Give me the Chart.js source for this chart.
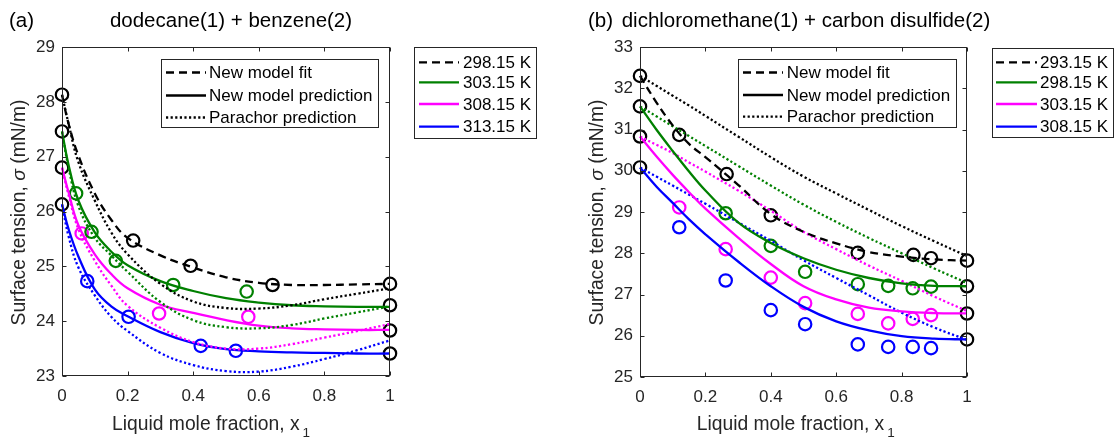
<!DOCTYPE html>
<html><head><meta charset="utf-8">
<script src="https://cdn.jsdelivr.net/npm/chart.js@4.4.0/dist/chart.umd.min.js"></script>
<style>
html,body{margin:0;padding:0;background:#fff;overflow:hidden;}
#wrap{position:relative;width:1114px;height:438px;background:#fff;}
.c{position:absolute;top:0;width:557px;height:438px;}
</style></head><body>
<div id="wrap">
<div class="c" style="left:0"><canvas id="ca" width="557" height="438"></canvas></div>
<div class="c" style="left:557px"><canvas id="cb" width="557" height="438"></canvas></div>
</div>
<script>
// ---------------- Panel (a): dodecane(1) + benzene(2) ----------------
const tempsA = ['298.15 K', '303.15 K', '308.15 K', '313.15 K'];
const xTicksA = [0, 0.2, 0.4, 0.6, 0.8, 1];
const xTickLabelsA = ['0', '0.2', '0.4', '0.6', '0.8', '1'];
const yTicksA = [23, 24, 25, 26, 27, 28, 29];
const gridA = [0, 0.02, 0.05, 0.1, 0.15, 0.2, 0.3, 0.4, 0.5, 0.6, 0.7, 0.8, 0.9, 1];
const modelA298 = [28.13, 27.6, 27.02, 26.33, 25.85, 25.52, 25.2, 24.98, 24.8, 24.7, 24.66, 24.66, 24.67, 24.68];
const modelA303 = [27.46, 26.85, 26.2, 25.62, 25.27, 25.02, 24.73, 24.55, 24.42, 24.34, 24.29, 24.27, 24.26, 24.26];
const modelA308 = [26.8, 26.35, 25.75, 25.22, 24.86, 24.6, 24.3, 24.15, 24.02, 23.92, 23.87, 23.85, 23.84, 23.84];
const modelA313 = [26.13, 25.68, 25.18, 24.58, 24.27, 24.09, 23.8, 23.6, 23.49, 23.45, 23.43, 23.42, 23.41, 23.41];
const parachorA298 = [28.13, 27.6, 26.9, 26.2, 25.62, 25.22, 24.68, 24.36, 24.24, 24.23, 24.29, 24.4, 24.5, 24.6];
const parachorA303 = [27.46, 26.8, 26.1, 25.52, 25.2, 24.9, 24.35, 24.02, 23.89, 23.87, 23.93, 24.05, 24.16, 24.27];
const parachorA308 = [26.8, 26.3, 25.68, 25.1, 24.65, 24.28, 23.88, 23.62, 23.5, 23.5, 23.58, 23.7, 23.82, 23.95];
const parachorA313 = [26.13, 25.55, 24.98, 24.47, 24.08, 23.82, 23.42, 23.2, 23.09, 23.08, 23.17, 23.31, 23.47, 23.65];
const expA298X = [0.217, 0.392, 0.642];
const expA298Y = [25.47, 25.01, 24.66];
const expA303X = [0.043, 0.090, 0.164, 0.339, 0.563];
const expA303Y = [26.33, 25.63, 25.10, 24.66, 24.54];
const expA308X = [0.060, 0.296, 0.568];
const expA308Y = [25.60, 24.14, 24.08];
const expA313X = [0.077, 0.203, 0.423, 0.530];
const expA313Y = [24.73, 24.08, 23.55, 23.46];
const pureAX = [0, 0, 0, 0, 1, 1, 1, 1];
const pureAY = [28.13, 27.46, 26.80, 26.13, 24.68, 24.29, 23.83, 23.41];

// ---------------- Panel (b): dichloromethane(1) + carbon disulfide(2) ----------------
const tempsB = ['293.15 K', '298.15 K', '303.15 K', '308.15 K'];
const xTicksB = [0, 0.2, 0.4, 0.6, 0.8, 1];
const xTickLabelsB = ['0', '0.2', '0.4', '0.6', '0.8', '1'];
const yTicksB = [25, 26, 27, 28, 29, 30, 31, 32, 33];
const gridB = [0, 0.05, 0.1, 0.15, 0.2, 0.3, 0.4, 0.5, 0.6, 0.7, 0.8, 0.9, 1];
const modelB293 = [32.3, 31.66, 31.1, 30.65, 30.33, 29.66, 28.95, 28.52, 28.24, 28.03, 27.92, 27.85, 27.82];
const modelB298 = [31.56, 31.0, 30.48, 29.98, 29.52, 28.75, 28.25, 27.88, 27.6, 27.4, 27.27, 27.21, 27.2];
const modelB303 = [30.83, 30.35, 29.9, 29.48, 29.08, 28.38, 27.74, 27.2, 26.88, 26.68, 26.59, 26.55, 26.54];
const modelB308 = [30.08, 29.62, 29.22, 28.82, 28.46, 27.8, 27.2, 26.7, 26.35, 26.13, 25.99, 25.93, 25.91];
const parachorB293 = [32.3, 32.06, 31.82, 31.58, 31.33, 30.83, 30.33, 29.86, 29.45, 29.05, 28.66, 28.29, 27.93];
const parachorB298 = [31.56, 31.32, 31.08, 30.84, 30.6, 30.12, 29.64, 29.18, 28.76, 28.37, 28.0, 27.63, 27.28];
const parachorB303 = [30.83, 30.63, 30.43, 30.2, 29.98, 29.52, 29.03, 28.52, 28.1, 27.7, 27.33, 26.95, 26.6];
const parachorB308 = [30.08, 29.86, 29.64, 29.42, 29.2, 28.75, 28.3, 27.83, 27.4, 26.98, 26.56, 26.2, 25.9];
const expB293X = [0.120, 0.265, 0.400, 0.666, 0.836, 0.890];
const expB293Y = [30.87, 29.92, 28.92, 28.01, 27.96, 27.88];
const expB298X = [0.262, 0.400, 0.505, 0.666, 0.759, 0.834, 0.890];
const expB298Y = [28.97, 28.18, 27.55, 27.25, 27.21, 27.15, 27.19];
const expB303X = [0.120, 0.262, 0.400, 0.505, 0.666, 0.759, 0.834, 0.890];
const expB303Y = [29.11, 28.10, 27.41, 26.79, 26.53, 26.30, 26.41, 26.50];
const expB308X = [0.120, 0.262, 0.400, 0.505, 0.666, 0.759, 0.834, 0.890];
const expB308Y = [28.63, 27.34, 26.62, 26.28, 25.79, 25.73, 25.73, 25.70];
const pureBX = [0, 0, 0, 0, 1, 1, 1, 1];
const pureBY = [32.30, 31.56, 30.83, 30.08, 27.82, 27.20, 26.54, 25.91];

const styleLegendLabels = ['New model fit', 'New model prediction', 'Parachor prediction'];

// ---------------- styling ----------------
const FONT = "'Liberation Sans', Arial, Helvetica, sans-serif";
const COLORS = ['#000000', '#008000', '#ff00ff', '#0000ff'];
const AXC = '#262626';
const DASH = [8, 5];
const DOT = [2.2, 2.4];
const LW = 2.3;

function pts(xs, ys) { return xs.map((x, i) => ({ x: x, y: ys[i] })); }

function buildDatasets(P) {
  const ds = [];
  for (let i = 0; i < 4; i++) {
    ds.push({ data: pts(P.grid, P.model[i]), showLine: true, borderColor: COLORS[i], borderWidth: LW,
      borderDash: i === 0 ? DASH : [], pointRadius: 0, tension: 0.4, fill: false, clip: false });
    ds.push({ data: pts(P.grid, P.parachor[i]), showLine: true, borderColor: COLORS[i], borderWidth: LW,
      borderDash: DOT, pointRadius: 0, tension: 0.4, fill: false, clip: false });
  }
  for (let i = 0; i < 4; i++) {
    ds.push({ data: pts(P.expX[i], P.expY[i]), showLine: false, pointRadius: 6.2, pointBorderWidth: 2.2,
      pointBorderColor: COLORS[i], pointBackgroundColor: 'rgba(0,0,0,0)', pointHoverRadius: 6.2, clip: false });
  }
  ds.push({ data: pts(P.pureX, P.pureY), showLine: false, pointRadius: 6.2, pointBorderWidth: 2.2,
    pointBorderColor: '#000', pointBackgroundColor: 'rgba(0,0,0,0)', pointHoverRadius: 6.2, clip: false });
  return ds;
}

function drawLegendBox(ctx, L, items) {
  ctx.save();
  ctx.fillStyle = '#fff';
  ctx.fillRect(L.x0, L.y0, L.x1 - L.x0, L.y1 - L.y0);
  ctx.strokeStyle = AXC; ctx.lineWidth = 1;
  ctx.strokeRect(L.x0 + 0.5, L.y0 + 0.5, L.x1 - L.x0 - 1, L.y1 - L.y0 - 1);
  ctx.font = '17px ' + FONT;
  ctx.textBaseline = 'middle';
  ctx.textAlign = 'left';
  items.forEach((it, k) => {
    const y = L.rows[k];
    ctx.beginPath();
    ctx.setLineDash(it.dash);
    ctx.strokeStyle = it.color; ctx.lineWidth = LW;
    ctx.moveTo(L.s0, y); ctx.lineTo(L.s1, y); ctx.stroke();
    ctx.setLineDash([]);
    ctx.fillStyle = '#000';
    ctx.fillText(it.text, L.tx, y + 1);
  });
  ctx.restore();
}

function decor(P) {
  return {
    id: 'decor' + P.id,
    afterDraw(chart) {
      const ctx = chart.ctx;
      const a = chart.chartArea;
      const xs = chart.scales.x, ys = chart.scales.y;
      ctx.save();
      ctx.strokeStyle = AXC; ctx.lineWidth = 1;
      const l = Math.round(a.left) + 0.5, r = Math.round(a.right) - 0.5;
      const t = Math.round(a.top) + 0.5, b = Math.round(a.bottom) - 0.5;
      ctx.strokeRect(l, t, r - l, b - t);
      ctx.beginPath();
      P.xTicks.forEach(v => {
        const px = Math.round(xs.getPixelForValue(v)) + 0.5;
        ctx.moveTo(px, b); ctx.lineTo(px, b - 4);
        ctx.moveTo(px, t); ctx.lineTo(px, t + 4);
      });
      P.yTicks.forEach(v => {
        const py = Math.round(ys.getPixelForValue(v)) + 0.5;
        ctx.moveTo(l, py); ctx.lineTo(l + 4, py);
        ctx.moveTo(r, py); ctx.lineTo(r - 4, py);
      });
      ctx.stroke();
      ctx.fillStyle = '#000';
      ctx.textBaseline = 'alphabetic';
      ctx.font = '20.5px ' + FONT;
      ctx.textAlign = 'left';
      ctx.fillText(P.tag, P.tagX, 27);
      if (P.titleAlign === 'center') { ctx.textAlign = 'center'; }
      ctx.fillText(P.title, P.titleX, 27);
      ctx.fillStyle = AXC;
      ctx.textAlign = 'left';
      ctx.font = '19.3px ' + FONT;
      const xl = 'Liquid mole fraction, x';
      ctx.fillText(xl, P.xlabX, 430);
      const w = ctx.measureText(xl).width;
      ctx.font = '13.5px ' + FONT;
      ctx.fillText('1', P.xlabX + w + 3, 437);
      ctx.save();
      ctx.translate(P.ylabX, 212.5);
      ctx.rotate(-Math.PI / 2);
      const p1 = 'Surface tension, ', p2 = '\u03C3', p3 = ' (mN/m)';
      const F = '19.3px ' + FONT, FI = 'italic 19.3px ' + FONT;
      ctx.font = F;
      const w1 = ctx.measureText(p1).width, w3 = ctx.measureText(p3).width;
      ctx.font = FI;
      const w2 = ctx.measureText(p2).width;
      const x0 = -(w1 + w2 + w3) / 2;
      ctx.textAlign = 'left';
      ctx.font = F; ctx.fillText(p1, x0, 0);
      ctx.font = FI; ctx.fillText(p2, x0 + w1, 0);
      ctx.font = F; ctx.fillText(p3, x0 + w1 + w2, 0);
      ctx.restore();
      drawLegendBox(ctx, P.inner, [
        { dash: DASH, color: '#000', text: styleLegendLabels[0] },
        { dash: [], color: '#000', text: styleLegendLabels[1] },
        { dash: DOT, color: '#000', text: styleLegendLabels[2] }
      ]);
      drawLegendBox(ctx, P.outer, P.temps.map((tt, i) => ({ dash: i === 0 ? DASH : [], color: COLORS[i], text: tt })));
      ctx.restore();
    }
  };
}

function makeChart(canvasId, P) {
  const tickFont = { family: FONT, size: 17 };
  return new Chart(document.getElementById(canvasId), {
    type: 'scatter',
    data: { datasets: buildDatasets(P) },
    options: {
      responsive: false, animation: false, devicePixelRatio: 1,
      events: [],
      layout: { padding: { left: 0, right: P.padRight, top: 47, bottom: 0 } },
      plugins: { legend: { display: false }, tooltip: { enabled: false }, title: { display: false } },
      scales: {
        x: {
          type: 'linear', min: 0, max: 1,
          grid: { display: false, drawTicks: false }, border: { display: false },
          ticks: { font: tickFont, color: AXC, padding: 10, maxRotation: 0,
            callback: (v) => { const k = P.xTicks.indexOf(v); return k >= 0 ? P.xTickLabels[k] : ''; } },
          afterBuildTicks: (s) => { s.ticks = P.xTicks.map(v => ({ value: v })); },
          afterFit: (s) => { s.height = P.xAxisH; }
        },
        y: {
          type: 'linear', min: P.yTicks[0], max: P.yTicks[P.yTicks.length - 1],
          grid: { display: false, drawTicks: false }, border: { display: false },
          ticks: { font: tickFont, color: AXC, padding: 7 },
          afterBuildTicks: (s) => { s.ticks = P.yTicks.map(v => ({ value: v })); },
          afterFit: (s) => { s.width = P.yAxisW; }
        }
      }
    },
    plugins: [decor(P)]
  });
}

makeChart('ca', {
  id: 'A', temps: tempsA, xTicks: xTicksA, xTickLabels: xTickLabelsA, yTicks: yTicksA, grid: gridA,
  model: [modelA298, modelA303, modelA308, modelA313],
  parachor: [parachorA298, parachorA303, parachorA308, parachorA313],
  expX: [expA298X, expA303X, expA308X, expA313X], expY: [expA298Y, expA303Y, expA308Y, expA313Y],
  pureX: pureAX, pureY: pureAY,
  padRight: 557 - 390, yAxisW: 62, xAxisH: 438 - 376,
  tag: '(a)', tagX: 9, title: 'dodecane(1) + benzene(2)', titleX: 231, titleAlign: 'center',
  xlabX: 112, ylabX: 25,
  inner: { x0: 161, y0: 59, x1: 379, y1: 128, s0: 166, s1: 206, tx: 209, rows: [72.5, 95.5, 117.5] },
  outer: { x0: 414, y0: 47, x1: 537, y1: 139, s0: 419, s1: 459, tx: 463, rows: [62.3, 82.3, 104, 126.7] }
});

makeChart('cb', {
  id: 'B', temps: tempsB, xTicks: xTicksB, xTickLabels: xTickLabelsB, yTicks: yTicksB, grid: gridB,
  model: [modelB293, modelB298, modelB303, modelB308],
  parachor: [parachorB293, parachorB298, parachorB303, parachorB308],
  expX: [expB293X, expB298X, expB303X, expB308X], expY: [expB293Y, expB298Y, expB303Y, expB308Y],
  pureX: pureBX, pureY: pureBY,
  padRight: 557 - 410, yAxisW: 83, xAxisH: 438 - 377,
  tag: '(b)', tagX: 31, title: 'dichloromethane(1) + carbon disulfide(2)', titleX: 64.7, titleAlign: 'left',
  xlabX: 139.7, ylabX: 45.7,
  inner: { x0: 181, y0: 59, x1: 400, y1: 128, s0: 186, s1: 226, tx: 229.7, rows: [72.5, 95, 116.7] },
  outer: { x0: 435, y0: 48, x1: 557, y1: 138, s0: 439, s1: 480, tx: 483, rows: [62.3, 82.3, 104, 126.7] }
});
</script>
</body></html>
